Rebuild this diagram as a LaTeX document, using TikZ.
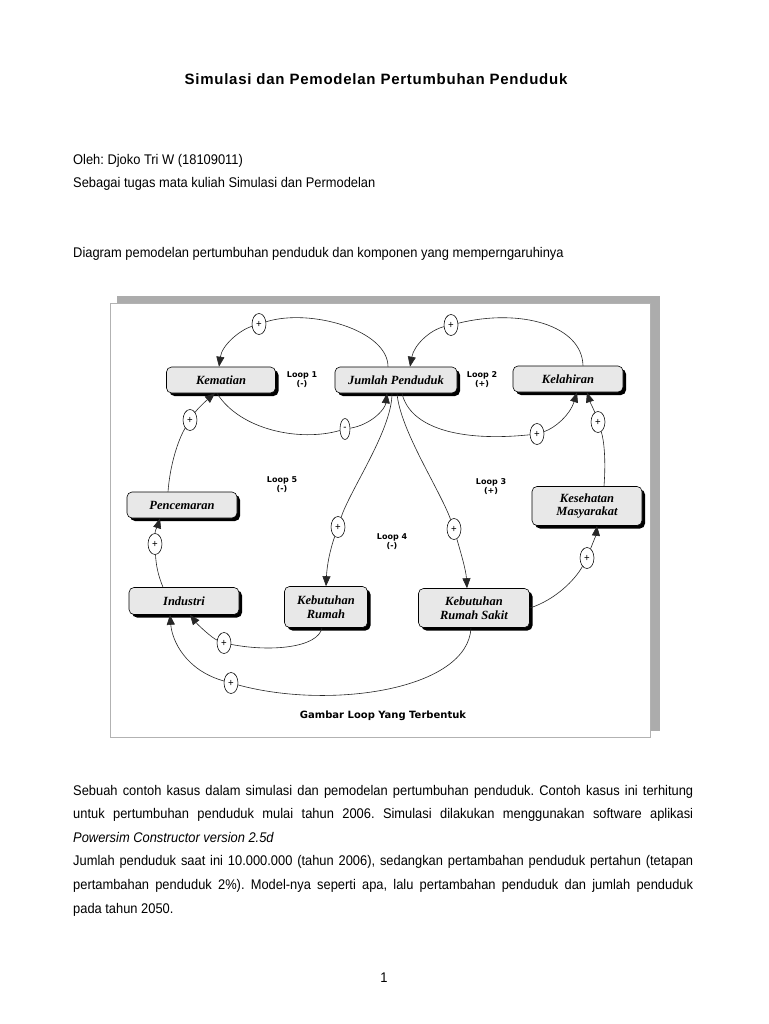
\documentclass[tikz,border=0pt]{standalone}
\usepackage{fontspec}
\setmainfont{Liberation Sans}[FakeStretch=0.92]
\newfontfamily\titlef{Liberation Sans}[LetterSpace=5]
\newfontfamily\boxf{Liberation Serif}
\newfontfamily\loopf{DejaVu Sans}
\usetikzlibrary{arrows.meta,shapes.geometric,shadows}
\frenchspacing
\begin{document}
\begin{tikzpicture}[x=1pt,y=-1pt,
 box/.style={draw=black, line width=0.6pt, rounded corners=5pt, fill=gray!18,
   drop shadow={shadow xshift=3pt, shadow yshift=-3pt, fill=black, opacity=1},
   font=\boxf\bfseries\itshape\fontsize{12.5}{13.5}\selectfont, align=center, inner sep=1pt},
 pm/.style={ellipse, draw=black, line width=0.55pt, fill=white, inner sep=0pt,
   minimum width=14pt, minimum height=21pt, font=\fontsize{10.5}{10.5}\selectfont},
 link/.style={line width=0.6pt, draw=black!85, -{Triangle[length=10pt,width=8pt]}},
 looplbl/.style={font=\loopf\bfseries\fontsize{8}{9}\selectfont, align=center},
 txt/.style={anchor=base west, inner sep=0pt, font=\fontsize{14}{16}\selectfont}]

\useasboundingbox[fill=white] (0,0) rectangle (768,1024);

% header text
\node[anchor=base, inner sep=0pt, font=\titlef\bfseries\fontsize{15}{17}\selectfont] (title) at (376,85)
  {Simulasi dan Pemodelan Pertumbuhan Penduduk};
\node[txt] (oleh) at (73,165) {Oleh: Djoko Tri W (18109011)};
\node[txt] (tugas) at (73,188) {Sebagai tugas mata kuliah Simulasi dan Permodelan};
\node[txt] (diag) at (73,257) {Diagram pemodelan pertumbuhan penduduk dan komponen yang memperngaruhinya};

% frame
\fill[gray!65] (117,296) rectangle (660,731);
\draw[gray!60, fill=white, line width=0.8pt] (110,303) rectangle (650,737);

% boxes
\node[box, minimum width=109pt, minimum height=26pt] (kem) at (221,380) {Kematian};
\node[box, minimum width=122pt, minimum height=26pt] (jp) at (396,380) {Jumlah Penduduk};
\node[box, minimum width=110pt, minimum height=26pt] (kel) at (568,379) {Kelahiran};
\node[box, minimum width=110pt, minimum height=26pt] (pen) at (182,505) {Pencemaran};
\node[box, minimum width=110pt, minimum height=39pt] (kes) at (587,506) {Kesehatan\\Masyarakat};
\node[box, minimum width=110pt, minimum height=27pt] (ind) at (184,601) {Industri};
\node[box, minimum width=83pt, minimum height=41pt] (kr) at (326,607) {Kebutuhan\\Rumah};
\node[box, minimum width=111pt, minimum height=39pt] (krs) at (474,608) {Kebutuhan\\Rumah Sakit};

% loop labels
\node[looplbl] (l1) at (302,380) {Loop 1\\(-)};
\node[looplbl] (l2) at (482,380) {Loop 2\\(+)};
\node[looplbl] (l5) at (282,485) {Loop 5\\(-)};
\node[looplbl] (l3) at (491,487) {Loop 3\\(+)};
\node[looplbl] (l4) at (392,542) {Loop 4\\(-)};
\node[font=\loopf\bfseries\fontsize{10}{12}\selectfont] (cap) at (383,716) {Gambar Loop Yang Terbentuk};

% polarity marks
\node[pm] (c1) at (259,324) {+};
\node[pm, minimum width=10pt] (c2) at (345,429) {-};
\node[pm] (c3) at (451,325) {+};
\node[pm] (c4) at (537,434) {+};
\node[pm] (c5) at (598,422) {+};
\node[pm] (c6) at (190,420) {+};
\node[pm] (c7) at (155,544) {+};
\node[pm] (c8) at (338,527) {+};
\node[pm] (c9) at (454,529) {+};
\node[pm] (c10) at (587,558) {+};
\node[pm] (c11) at (224,643) {+};
\node[pm] (c12) at (231,683) {+};

% connectors
\draw[link] ([xshift=-8pt]jp.north) .. controls (388,330) and (310,308) .. (c1)
   .. controls (240,330) and (222,345) .. ([xshift=-2pt]kem.north);
\draw[link] ([xshift=-4pt]kem.south) .. controls (240,430) and (300,442) .. (c2)
   .. controls (370,425) and (385,410) .. ([xshift=-9pt]jp.south);
\draw[link] ([xshift=15pt]kel.north) .. controls (582,325) and (520,308) .. (c3)
   .. controls (430,330) and (414,345) .. ([xshift=14pt]jp.north);
\draw[link] ([xshift=6pt]jp.south) .. controls (410,428) and (460,442) .. (c4)
   .. controls (555,428) and (570,415) .. ([xshift=9pt]kel.south);
\draw[link] ([xshift=17pt]kes.north) .. controls (606,460) and (604,440) .. (c5)
   .. controls (594,410) and (590,402) .. ([xshift=19pt]kel.south);
\draw[link] ([xshift=-14pt]pen.north) .. controls (170,465) and (178,440) .. (c6)
   .. controls (198,408) and (207,400) .. ([xshift=-6pt]kem.south);
\draw[link] ([xshift=-21pt]ind.north) .. controls (158,575) and (156,565) .. (c7)
   .. controls (155,530) and (158,525) .. ([xshift=-22pt]pen.south);
\draw[link] ([xshift=-4pt]jp.south) .. controls (392,430) and (350,490) .. (c8)
   .. controls (330,550) and (327,565) .. (kr.north);
\draw[link] ([xshift=1pt]jp.south) .. controls (400,430) and (440,490) .. (c9)
   .. controls (460,550) and (466,570) .. ([xshift=-7pt]krs.north);
\draw[link] (krs.east) .. controls (555,600) and (575,580) .. (c10)
   .. controls (592,545) and (596,535) .. ([xshift=10pt]kes.south);
\draw[link] ([xshift=-4pt]kr.south) .. controls (318,648) and (270,652) .. (c11)
   .. controls (212,638) and (198,625) .. ([xshift=6pt]ind.south);
\draw[link] ([xshift=-3pt]krs.south) .. controls (468,690) and (330,710) .. (c12)
   .. controls (185,670) and (172,640) .. ([xshift=-14pt]ind.south);

% paragraph
\node[anchor=base west, inner sep=0pt, text width=620pt, align=justify,
      font=\fontsize{14}{23.6}\selectfont] (para) at (73,795)
 {Sebuah contoh kasus dalam simulasi dan pemodelan pertumbuhan penduduk. Contoh kasus ini terhitung\linebreak
  untuk pertumbuhan penduduk mulai tahun 2006. Simulasi dilakukan menggunakan software aplikasi\linebreak
  \textit{Powersim Constructor version 2.5d}\\
  Jumlah penduduk saat ini 10.000.000 (tahun 2006), sedangkan pertambahan penduduk pertahun (tetapan\linebreak
  pertambahan penduduk 2\%). Model-nya seperti apa, lalu pertambahan penduduk dan jumlah penduduk\linebreak
  pada tahun 2050.};

\node[anchor=base, inner sep=0pt, font=\fontsize{14}{16}\selectfont] (pg) at (384,982) {1};
\end{tikzpicture}
\end{document}
